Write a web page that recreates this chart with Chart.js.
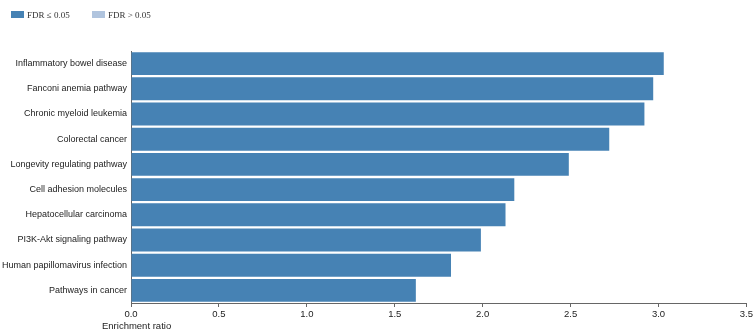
<!DOCTYPE html>
<html lang="en">
<head>
    <meta charset="UTF-8">
    <title>Enrichment</title>
    <script src="https://cdn.jsdelivr.net/npm/chart.js"></script>
    <style>
        body { margin: 0; background: #fff; }
        #wrap { position: relative; width: 755px; height: 335px; }
        .legend { position: absolute; top: 10px; font: 9px "Liberation Serif", serif; color: #333; }
        .legend span { display: inline-block; width: 13px; height: 7px; margin-right: 3px; vertical-align: 0px; }
    </style>
</head>
<body>
    <div id="wrap">
        <canvas id="chart" width="755" height="335"></canvas>
        <div class="legend" style="left:11px"><span style="background:#4682b4"></span>FDR ≤ 0.05</div>
        <div class="legend" style="left:92px"><span style="background:#b0c4de"></span>FDR &gt; 0.05</div>
    </div>

    <script>
        const pathways = ["Inflammatory bowel disease", "Fanconi anemia pathway", "Chronic myeloid leukemia",
            "Colorectal cancer", "Longevity regulating pathway", "Cell adhesion molecules",
            "Hepatocellular carcinoma", "PI3K-Akt signaling pathway", "Human papillomavirus infection",
            "Pathways in cancer"]
        const enrichment = [3.03, 2.97, 2.92, 2.72, 2.49, 2.18, 2.13, 1.99, 1.82, 1.62]
        const significant = [true, true, true, true, true, true, true, true, true, true]
        const xTicks = [0, 0.5, 1, 1.5, 2, 2.5, 3, 3.5]

        const labelFont = { family: "'Liberation Sans', Arial, sans-serif", size: 9 }

        // x axis title sits left of the plot, like the original
        const axisTitle = {
            id: 'axisTitle',
            afterDraw(chart) {
                const ctx = chart.ctx
                ctx.save()
                ctx.font = "9.5px " + labelFont.family
                ctx.fillStyle = "#222"
                ctx.textBaseline = "middle"
                ctx.fillText("Enrichment ratio", chart.chartArea.left - 29, 326)
                ctx.restore()
            }
        }

        new Chart(document.getElementById("chart"), {
            type: 'bar',
            data: {
                labels: pathways,
                datasets: [{
                    label: "FDR ≤ 0.05",
                    data: enrichment,
                    backgroundColor: significant.map(s => s ? "#4682b4" : "#b0c4de"),
                    categoryPercentage: 0.91,
                    barPercentage: 1
                }]
            },
            options: {
                indexAxis: 'y',
                responsive: false,
                animation: false,
                layout: { padding: { top: 51, right: 8, left: 0, bottom: 0 } },
                plugins: { legend: { display: false }, tooltip: { enabled: false } },
                scales: {
                    x: {
                        min: 0,
                        max: 3.5,
                        afterBuildTicks: s => { s.ticks = xTicks.map(v => ({ value: v })) },
                        afterFit: s => { s.height = 32 },
                        grid: { drawOnChartArea: false, tickLength: 4, color: "#666" },
                        border: { color: "#666" },
                        ticks: {
                            padding: 2,
                            color: "#222",
                            font: { family: labelFont.family, size: 9.5 },
                            maxRotation: 0,
                            callback: v => Number(v).toFixed(1)
                        }
                    },
                    y: {
                        afterFit: s => { s.width = 131 },
                        grid: { display: false, drawTicks: false },
                        border: { display: true, color: "#666" },
                        ticks: { padding: 4, color: "#222", font: labelFont }
                    }
                }
            },
            plugins: [axisTitle]
        })
    </script>
</body>
</html>
